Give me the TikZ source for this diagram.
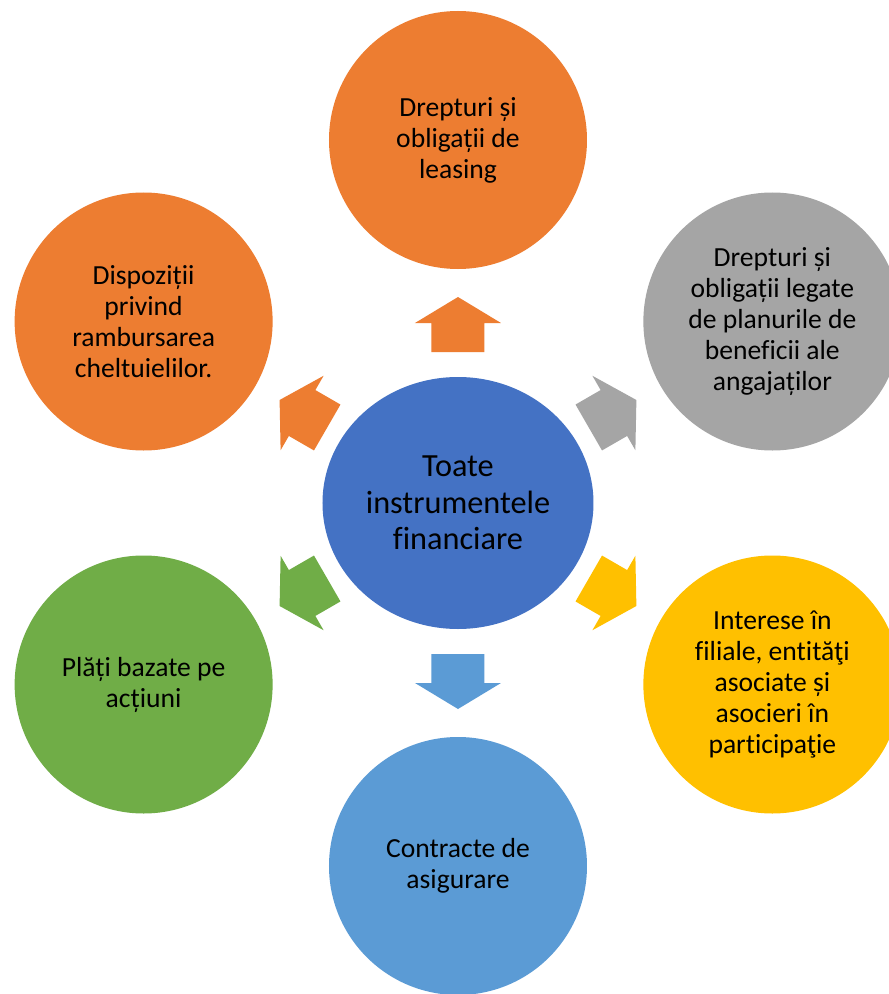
\documentclass[tikz,border=0pt]{standalone}
\usepackage{fontspec}
\setmainfont{Carlito}[Ligatures=NoCommon]
\usetikzlibrary{shapes.geometric}
\definecolor{corange}{HTML}{ED7D31}
\definecolor{cgray}{HTML}{A5A5A5}
\definecolor{cyellow}{HTML}{FFC000}
\definecolor{cblue}{HTML}{4472C4}
\definecolor{clblue}{HTML}{5B9BD5}
\definecolor{cgreen}{HTML}{70AD47}
\tikzset{
  outer/.style={circle, minimum size=258pt, inner sep=0pt, align=center,
    font=\fontsize{27.6}{31}\selectfont, text=black},
  hub/.style={ellipse, minimum width=271pt, minimum height=252pt, inner sep=0pt,
    align=center, fill=cblue, font=\fontsize{32.3}{36.5}\selectfont, text=black},
  blockarrow/.style={fill=#1, draw=none}
}
\begin{document}
\begin{tikzpicture}[x=1pt,y=1pt]
\clip (-458,-491) rectangle (431,503);
\fill[white] (-458,-491) rectangle (431,503);
\node[hub] (hub) at (0,0) {Toate\\instrumentele\\financiare};
\node[outer, fill=corange] (top) at (90:363) {Drepturi și\\obligații de\\leasing};
\node[outer, fill=cgray] (ur) at (30:363) {Drepturi și\\obligații legate\\de planurile de\\beneficii ale\\angajaților};
\node[outer, fill=cyellow] (lr) at (-30:363) {Interese în\\filiale, entităţi\\asociate și\\asocieri în\\participaţie};
\node[outer, fill=clblue] (bot) at (-90:363) {Contracte de\\asigurare};
\node[outer, fill=cgreen] (ll) at (210:363) {Plăți bazate pe\\acțiuni};
\node[outer, fill=corange] (ul) at (150:363) {Dispoziții\\privind\\rambursarea\\cheltuielilor.};
\foreach \ang/\col in {90/corange, 30/cgray, -30/cyellow, -90/clblue, 210/cgreen, 150/corange}{
  \begin{scope}[shift={(\ang:178.5)}, rotate=\ang]
    \fill[blockarrow=\col] (-27.5,-26.5) -- (1.5,-26.5) -- (1.5,-43) -- (27.5,0)
      -- (1.5,43) -- (1.5,26.5) -- (-27.5,26.5) -- cycle;
  \end{scope}
}
\end{tikzpicture}
\end{document}
